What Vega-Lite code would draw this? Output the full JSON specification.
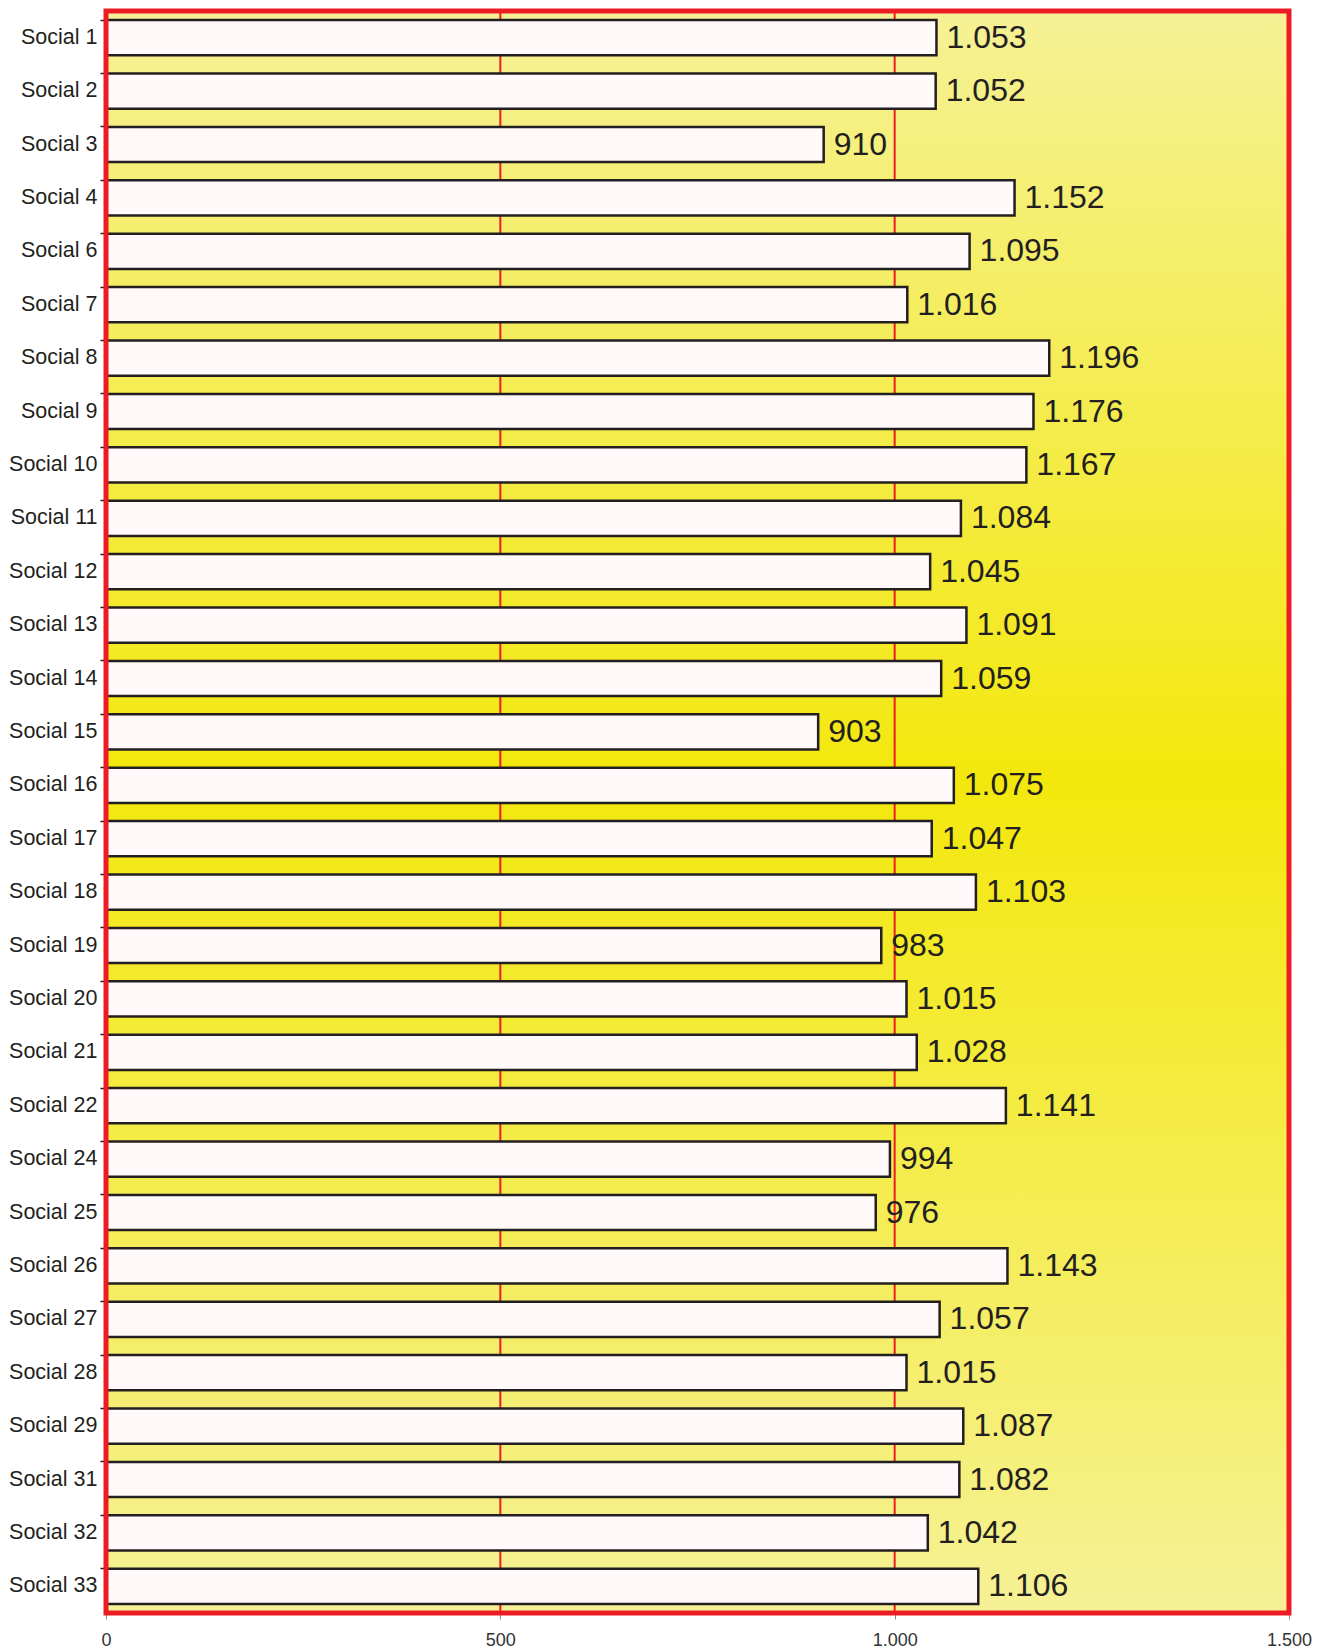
{
  "$schema": "https://vega.github.io/schema/vega-lite/v6.json",
  "autosize": "none",
  "width": 1183,
  "height": 1602,
  "padding": {"left": 106, "top": 11, "right": 37, "bottom": 37},
  "background": "white",
  "config": {
    "locale": {"number": {"decimal": ",", "thousands": ".", "grouping": [3], "currency": ["", " €"]}},
    "view": {"stroke": null},
    "font": "Liberation Sans"
  },
  "datasets": {
    "rows": [
      {"name": "Social 1", "value": 1053},
      {"name": "Social 2", "value": 1052},
      {"name": "Social 3", "value": 910},
      {"name": "Social 4", "value": 1152},
      {"name": "Social 6", "value": 1095},
      {"name": "Social 7", "value": 1016},
      {"name": "Social 8", "value": 1196},
      {"name": "Social 9", "value": 1176},
      {"name": "Social 10", "value": 1167},
      {"name": "Social 11", "value": 1084},
      {"name": "Social 12", "value": 1045},
      {"name": "Social 13", "value": 1091},
      {"name": "Social 14", "value": 1059},
      {"name": "Social 15", "value": 903},
      {"name": "Social 16", "value": 1075},
      {"name": "Social 17", "value": 1047},
      {"name": "Social 18", "value": 1103},
      {"name": "Social 19", "value": 983},
      {"name": "Social 20", "value": 1015},
      {"name": "Social 21", "value": 1028},
      {"name": "Social 22", "value": 1141},
      {"name": "Social 24", "value": 994},
      {"name": "Social 25", "value": 976},
      {"name": "Social 26", "value": 1143},
      {"name": "Social 27", "value": 1057},
      {"name": "Social 28", "value": 1015},
      {"name": "Social 29", "value": 1087},
      {"name": "Social 31", "value": 1082},
      {"name": "Social 32", "value": 1042},
      {"name": "Social 33", "value": 1106}
    ],
    "frame": [{"start": 0, "end": 1500}]
  },
  "layer": [
    {
      "data": {"name": "frame"},
      "mark": {
        "type": "rect",
        "color": {"gradient": "linear", "x1": 0, "y1": 0, "x2": 0, "y2": 1,
          "stops": [
            {"offset": 0, "color": "#f6f196"},
            {"offset": 0.48, "color": "#f3e80c"},
            {"offset": 1, "color": "#f6f196"}
          ]}
      },
      "encoding": {
        "x": {"field": "start", "type": "quantitative", "scale": {"domain": [0, 1500], "nice": false},
          "axis": {
            "title": null, "values": [0, 500, 1000, 1500], "format": ",d",
            "domain": false, "grid": false,
            "tickColor": "#888888", "tickSize": 6, "tickWidth": 1,
            "labelFont": "Liberation Sans", "labelFontSize": 18, "labelColor": "#333333",
            "labelPadding": 12, "labelFlush": false
          }},
        "x2": {"field": "end"}
      }
    },
    {
      "data": {"name": "frame"},
      "mark": {"type": "rule", "color": "#ed1c24", "strokeWidth": 2},
      "encoding": {"x": {"datum": 500, "type": "quantitative"}}
    },
    {
      "data": {"name": "frame"},
      "mark": {"type": "rule", "color": "#ed1c24", "strokeWidth": 2},
      "encoding": {"x": {"datum": 1000, "type": "quantitative"}}
    },
    {
      "data": {"name": "rows"},
      "mark": {"type": "bar", "fill": "#fff9f9", "stroke": "#231f20", "strokeWidth": 2.5},
      "encoding": {
        "y": {
          "field": "name", "type": "nominal", "sort": null,
          "scale": {"paddingInner": 0.34, "paddingOuter": 0.17},
          "axis": {
            "title": null, "domain": false, "bandPosition": 0,
            "tickColor": "#231f20", "tickSize": 6, "tickWidth": 1.5,
            "labelFont": "Liberation Sans", "labelFontSize": 21.5, "labelColor": "#231f20",
            "labelPadding": 3
          }
        },
        "x": {"field": "value", "type": "quantitative"}
      }
    },
    {
      "data": {"name": "rows"},
      "mark": {"type": "text", "align": "left", "baseline": "middle", "dx": 10, "fontSize": 32, "color": "#231f20", "font": "Liberation Sans"},
      "encoding": {
        "y": {"field": "name", "type": "nominal", "sort": null},
        "x": {"field": "value", "type": "quantitative"},
        "text": {"field": "value", "type": "quantitative", "format": ",d"}
      }
    },
    {
      "data": {"name": "frame"},
      "mark": {"type": "rect", "fill": null, "stroke": "#ed1c24", "strokeWidth": 5},
      "encoding": {
        "x": {"field": "start", "type": "quantitative"},
        "x2": {"field": "end"}
      }
    }
  ]
}
